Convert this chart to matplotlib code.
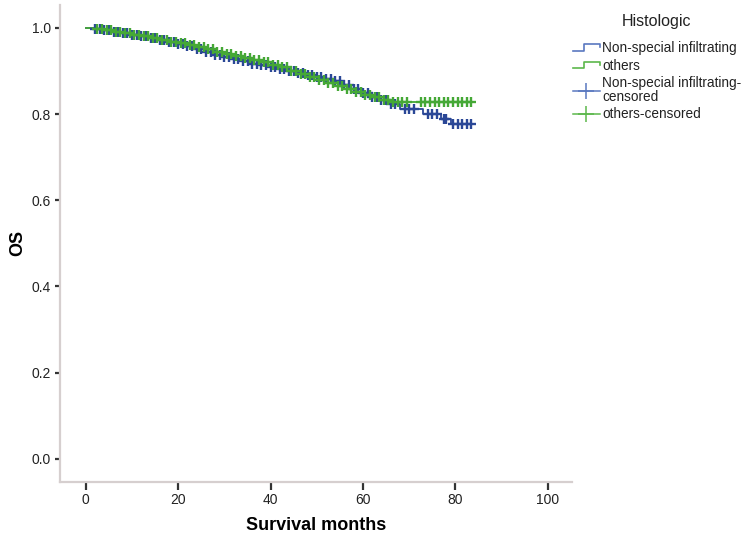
import numpy as np
import matplotlib
matplotlib.use('Agg')
import matplotlib.pyplot as plt
from matplotlib.lines import Line2D
from matplotlib.legend_handler import HandlerBase

plt.rcParams['font.family'] = ['Liberation Sans', 'DejaVu Sans']

# Kaplan-Meier step data (months, survival)
ns_time = [0, 2, 4, 6, 8, 10, 12, 14, 16, 18, 20, 22, 24, 26, 28, 30, 32, 34, 36, 38,
           40, 42, 44, 46, 48, 50, 52, 54, 56, 58, 60, 62, 64, 66, 68, 73, 77, 79]
ns_surv = [1.0, 0.997, 0.994, 0.991, 0.988, 0.984, 0.980, 0.976, 0.971, 0.967, 0.962,
           0.957, 0.950, 0.943, 0.937, 0.932, 0.927, 0.922, 0.917, 0.913, 0.909, 0.904,
           0.900, 0.895, 0.891, 0.886, 0.881, 0.876, 0.868, 0.859, 0.849, 0.840, 0.832,
           0.824, 0.812, 0.799, 0.788, 0.777]
ot_time = [0, 2, 4, 6, 8, 10, 12, 14, 16, 18, 20, 22, 24, 26, 28, 30, 32, 34, 36, 38,
           40, 42, 44, 46, 48, 50, 52, 54, 56, 58, 60, 62, 64, 66]
ot_surv = [1.0, 0.997, 0.994, 0.991, 0.988, 0.984, 0.980, 0.976, 0.972, 0.968, 0.964,
           0.960, 0.955, 0.950, 0.945, 0.940, 0.935, 0.930, 0.925, 0.920, 0.914, 0.908,
           0.900, 0.892, 0.885, 0.878, 0.872, 0.865, 0.859, 0.852, 0.845, 0.839, 0.833,
           0.828]

# censored observations (months)
ns_cens = [2, 3, 4, 5, 6, 7, 8, 9, 10, 11, 12, 13, 14, 15, 16, 17, 18, 19, 20, 21, 22,
           23, 24, 25, 26, 27, 28, 29, 30, 31, 32, 33, 34, 35, 36, 37, 38, 39, 40, 41, 42,
           43, 44, 45, 46, 47, 48, 49, 50, 51, 52, 53, 54, 55, 56, 57, 58, 59, 60, 61, 62,
           63, 64, 65, 66, 67, 69, 70, 71, 74, 75, 76, 77.5, 78, 79.5, 80.5, 81.5, 82.5, 83.5]
ot_cens = [2.5, 3.5, 4.5, 5.5, 6.5, 7.5, 8.5, 9.5, 10.5, 11.5, 12.5, 13.5, 14.5, 15.5,
           16.5, 17.5, 18.5, 19.5, 20.5, 21.5, 22.5, 23.5, 24.5, 25.5, 26.5, 27.5, 28.5,
           29.5, 30.5, 31.5, 32.5, 33.5, 34.5, 35.5, 36.5, 37.5, 38.5, 39.5, 40.5, 41.5,
           42.5, 43.5, 44.5, 45.5, 46.5, 47.5, 48.5, 49.5, 50.5, 51.5, 52.5, 53.5, 54.5,
           55.5, 56.5, 57.5, 58.5, 59.5, 60.5, 61.5, 62.5, 63.5, 64.5, 65.5, 66.5, 67.5,
           68.5, 69.5, 72.5, 73.5, 74.5, 75.5, 76.5, 77.5, 78.5, 79.5, 80.5, 81.5, 82.5, 83.5]

blue = '#2a4796'
green = '#45a836'
blue_light = '#5a78c0'
green_light = '#5cb84c'


def surv_at(times, surv, t):
    idx = np.searchsorted(times, t, side='right') - 1
    return np.array(surv)[idx]


fig = plt.figure(figsize=(7.42, 5.40), dpi=100)
ax = fig.add_axes([60 / 742, 1 - 481.7 / 540, 511.7 / 742, 476.7 / 540])

groups = [(ns_time, ns_surv, ns_cens, blue), (ot_time, ot_surv, ot_cens, green)]
for times, surv, cens, c in groups:
    tt = list(times) + [max(cens)]
    ss = list(surv) + [surv[-1]]
    ax.step(tt, ss, where='post', color=c, lw=1.3, zorder=2)
for times, surv, cens, c in groups:
    ax.plot(cens, surv_at(times, surv, cens), linestyle='none', marker='+',
            ms=7.5, mew=1.7, color=c, zorder=3)

ax.set_xlim(-5.6, 105.2)
ax.set_ylim(-0.053, 1.053)
ax.set_xticks([0, 20, 40, 60, 80, 100])
ax.set_yticks([0.0, 0.2, 0.4, 0.6, 0.8, 1.0])
ax.set_yticklabels(['0.0', '0.2', '0.4', '0.6', '0.8', '1.0'])
for s in ['top', 'right']:
    ax.spines[s].set_visible(False)
for s in ['left', 'bottom']:
    ax.spines[s].set_color('#d6cfcf')
    ax.spines[s].set_linewidth(1.6)
ax.tick_params(axis='x', length=6, width=1.6, color='#333333', pad=2,
               labelsize=10, labelcolor='#222222')
ax.tick_params(axis='y', length=3.5, width=1.6, color='#333333', pad=3,
               labelsize=10, labelcolor='#222222')
ax.set_xlabel('Survival months', fontsize=13, fontweight='bold', labelpad=7)
ax.set_ylabel('OS', fontsize=13, fontweight='bold', labelpad=4)


class StepHandler(HandlerBase):
    def create_artists(self, legend, orig_handle, xdescent, ydescent, width, height,
                       fontsize, trans):
        lo = height * 0.15 - ydescent
        hi = height * 0.85 - ydescent
        xs = [-xdescent, -xdescent + width * 0.4, -xdescent + width * 0.4,
              -xdescent + width, -xdescent + width]
        ys = [lo, lo, hi, hi, height * 0.5 - ydescent]
        ln = Line2D(xs, ys, color=orig_handle.get_color(), lw=1.2, transform=trans)
        return [ln]


h1 = Line2D([], [], color=blue_light)
h2 = Line2D([], [], color=green_light)
h3 = Line2D([], [], color=blue_light, marker='+', ms=11, mew=1.1, lw=1.1)
h4 = Line2D([], [], color=green_light, marker='+', ms=11, mew=1.1, lw=1.1)
leg = fig.legend([h1, h2, h3, h4],
                 ['Non-special infiltrating', 'others',
                  'Non-special infiltrating-\ncensored', 'others-censored'],
                 title='Histologic', loc='upper left',
                 bbox_to_anchor=(570 / 742, 1 - 11 / 540), frameon=False,
                 fontsize=9.8, title_fontsize=11.5, handlelength=2.0,
                 handletextpad=0.15, labelspacing=0.25, numpoints=1,
                 borderaxespad=0, borderpad=0.2,
                 handler_map={h1: StepHandler(), h2: StepHandler()})
leg._legend_box.sep = 9
for t in leg.get_texts():
    t.set_color('#222222')
    t.set_linespacing(1.0)
leg.get_title().set_color('#222222')

fig.savefig('out.png', dpi=100)
